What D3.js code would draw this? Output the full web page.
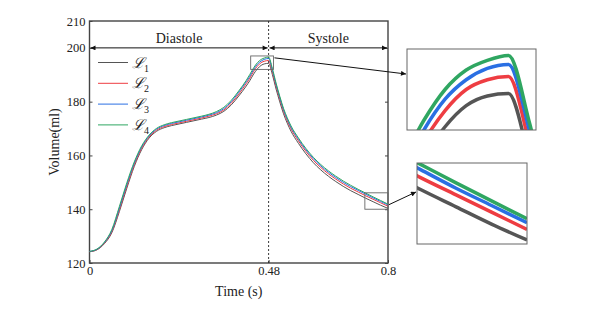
<!DOCTYPE html>
<html>
<head>
<meta charset="utf-8">
<script src="https://cdn.jsdelivr.net/npm/d3@7"></script>
<style>
  body { margin: 0; background: #fff; }
  text { font-family: "Liberation Serif", "DejaVu Serif", serif; fill: #222; }
</style>
</head>
<body>
<div id="chart"></div>
<script>
// time points (s)
let times = [0,0.02,0.04,0.06,0.08,0.10,0.12,0.14,0.16,0.18,0.20,0.22,0.24,0.26,0.28,0.30,0.32,0.34,0.36,0.38,0.40,0.42,0.43,0.44,0.45,0.46,0.47,0.48,0.49,0.50,0.51,0.52,0.53,0.54,0.56,0.58,0.60,0.62,0.64,0.66,0.68,0.70,0.72,0.74,0.76,0.78,0.80]

// volumes (ml) for each case
let volL1 = [124.2,124.9,127.2,131.3,139.1,147.8,155.9,162.2,166.5,169.0,170.3,171.1,171.7,172.3,172.9,173.5,174.1,175.0,176.4,178.8,182.1,185.8,187.9,190.3,192.2,193.5,194.1,194.25,190.1,184.7,179.9,175.5,172.0,169.0,164.5,160.6,157.3,154.6,152.3,150.3,148.5,146.9,145.5,144.1,142.8,141.5,140.3]
let volL2 = [124.2,125.0,127.4,131.7,139.8,148.5,156.5,162.7,166.9,169.4,170.7,171.5,172.1,172.7,173.3,173.9,174.6,175.5,176.9,179.4,182.8,186.7,188.8,191.3,193.2,194.5,195.1,195.3,191.1,185.7,180.9,176.4,172.9,169.9,165.4,161.5,158.2,155.5,153.2,151.2,149.4,147.8,146.4,145.0,143.7,142.4,141.1]
let volL3 = [124.3,125.1,127.6,132.1,140.4,149.2,157.1,163.2,167.3,169.8,171.1,171.9,172.5,173.1,173.7,174.3,175.0,175.9,177.4,180.0,183.5,187.4,189.5,192.0,193.9,195.1,195.8,196.05,191.9,186.4,181.5,177.0,173.5,170.5,166.0,162.1,158.8,156.1,153.8,151.8,150.0,148.4,147.0,145.6,144.2,142.9,141.6]
let volL4 = [124.3,125.2,127.8,132.5,141.0,149.8,157.6,163.6,167.6,170.1,171.4,172.2,172.8,173.4,174.0,174.6,175.3,176.3,177.9,180.5,184.0,187.9,190.2,192.6,194.5,195.7,196.3,196.6,192.4,186.9,182.0,177.5,174.0,171.0,166.5,162.6,159.3,156.6,154.3,152.3,150.5,148.9,147.4,146.0,144.6,143.25,141.9]

let seriesNames = ["1", "2", "3", "4"]
let seriesColors = ["#555555", "#ee3d42", "#2a6fe3", "#2fa661"]
let yTicks = [120, 140, 160, 180, 200, 210]
let xTicks = [0, 0.48, 0.8]
let phaseSplit = 0.48
let phaseNames = ["Diastole", "Systole"]
// zoom windows [t0, t1, v0, v1]
let zoomTop = [0.432, 0.493, 192.0, 197.0]
let zoomEnd = [0.738, 0.8, 140.0, 146.1]

let allVols = [volL1, volL2, volL3, volL4]
let data = allVols.map((v, i) => ({
    name: seriesNames[i],
    color: seriesColors[i],
    values: times.map((t, j) => ({t: t, v: v[j]}))
}))

let svgWidth = 613
let svgHeight = 313
let margin = {top: 21, right: 225, bottom: 50, left: 89.5}
let width = svgWidth - margin.left - margin.right   // ~298.5
let height = svgHeight - margin.top - margin.bottom

let svg = d3.select("#chart").append("svg")
    .attr("width", svgWidth)
    .attr("height", svgHeight)

let defs = svg.append("defs")
defs.append("marker")
    .attr("id", "head")
    .attr("viewBox", "0 0 10 10")
    .attr("refX", 10).attr("refY", 5)
    .attr("markerWidth", 7).attr("markerHeight", 5)
    .attr("markerUnits", "userSpaceOnUse")
    .attr("orient", "auto-start-reverse")
    .append("path").attr("d", "M0,0L10,5L0,10z").attr("fill", "#111")

let x = d3.scaleLinear().domain([0, 0.8]).range([margin.left, margin.left + width])
let y = d3.scaleLinear().domain([120, 210]).range([margin.top + height, margin.top])

let line = d3.line()
    .x(d => x(d.t))
    .y(d => y(d.v))
    .curve(d3.curveMonotoneX)

// axes (ticks inward)
svg.append("g")
    .attr("transform", `translate(${margin.left},0)`)
    .call(d3.axisLeft(y).tickValues(yTicks).tickSize(-3).tickPadding(4))
    .call(g => g.selectAll("text").style("font-size", "12.5px"))
svg.append("g")
    .attr("transform", `translate(${margin.left + width},0)`)
    .call(d3.axisRight(y).tickValues(yTicks.slice(0, 5)).tickSize(-3).tickFormat(""))
svg.append("g")
    .attr("transform", `translate(0,${margin.top + height})`)
    .call(d3.axisBottom(x).tickValues(xTicks).tickSize(-3).tickPadding(3).tickFormat(d3.format("")))
    .call(g => g.selectAll("text").style("font-size", "12.5px"))
svg.selectAll(".domain").attr("stroke", "none")
svg.selectAll(".tick line").attr("stroke", "#444")

// frame
svg.append("rect")
    .attr("x", margin.left).attr("y", margin.top)
    .attr("width", width).attr("height", height)
    .attr("fill", "none").attr("stroke", "#444").attr("stroke-width", 1.4)

// dashed split
svg.append("line")
    .attr("x1", x(phaseSplit)).attr("x2", x(phaseSplit))
    .attr("y1", margin.top).attr("y2", margin.top + height)
    .attr("stroke", "#222").attr("stroke-dasharray", "2,2").attr("stroke-width", 0.9)

// phase arrows
let phases = [[0, phaseSplit], [phaseSplit, 0.8]]
phases.forEach((p, i) => {
    svg.append("line")
        .attr("x1", x(p[0]) + 1).attr("x2", x(p[1]) - 1)
        .attr("y1", y(200)).attr("y2", y(200))
        .attr("stroke", "#111").attr("stroke-width", 1)
        .attr("marker-start", "url(#head)").attr("marker-end", "url(#head)")
    svg.append("text")
        .attr("x", (x(p[0]) + x(p[1])) / 2).attr("y", y(200) - 5)
        .attr("text-anchor", "middle").style("font-size", "14px")
        .text(phaseNames[i])
})

// curves
svg.append("g").selectAll("path")
    .data(data).enter().append("path")
    .attr("d", d => line(d.values))
    .attr("fill", "none")
    .attr("stroke", d => d.color)
    .attr("stroke-width", 1)

// legend
let legend = svg.append("g")
data.forEach((d, i) => {
    let ly = 62.5 + i * 20.8
    legend.append("line")
        .attr("x1", 98).attr("x2", 128).attr("y1", ly).attr("y2", ly)
        .attr("stroke", d.color).attr("stroke-width", 1)
    let t = legend.append("text")
        .attr("x", 132).attr("y", ly + 5)
        .style("font-size", "15px").style("font-style", "italic")
    t.append("tspan").text("\u2112")
    t.append("tspan").attr("dy", 4).style("font-size", "10px").style("font-style", "normal").text(d.name)
})

// axis titles
svg.append("text")
    .attr("x", x(0.4)).attr("y", 296)
    .attr("text-anchor", "middle").style("font-size", "14px")
    .text("Time (s)")
svg.append("text")
    .attr("transform", `translate(59,${margin.top + height / 2}) rotate(-90)`)
    .attr("text-anchor", "middle").style("font-size", "14px")
    .text("Volume(ml)")

// zoom insets
function inset(win, box, id) {
    let sx = d3.scaleLinear().domain([win[0], win[1]]).range([box[0], box[2]])
    let sy = d3.scaleLinear().domain([win[2], win[3]]).range([box[3], box[1]])
    // marker box in main plot
    svg.append("rect")
        .attr("x", x(win[0])).attr("y", y(win[3]))
        .attr("width", x(win[1]) - x(win[0])).attr("height", y(win[2]) - y(win[3]))
        .attr("fill", "none").attr("stroke", "#666").attr("stroke-width", 0.9)
    defs.append("clipPath").attr("id", id)
        .append("rect")
        .attr("x", box[0]).attr("y", box[1])
        .attr("width", box[2] - box[0]).attr("height", box[3] - box[1])
    let zl = d3.line().x(d => sx(d.t)).y(d => sy(d.v)).curve(d3.curveMonotoneX)
    svg.append("g").attr("clip-path", `url(#${id})`)
        .selectAll("path").data(data).enter().append("path")
        .attr("d", d => zl(d.values))
        .attr("fill", "none").attr("stroke", d => d.color).attr("stroke-width", 3.5)
    svg.append("rect")
        .attr("x", box[0]).attr("y", box[1])
        .attr("width", box[2] - box[0]).attr("height", box[3] - box[1])
        .attr("fill", "none").attr("stroke", "#666").attr("stroke-width", 1)
}
inset(zoomTop, [407, 49, 536, 130], "clipTop")
inset(zoomEnd, [417, 163, 527, 244], "clipEnd")

// pointer arrows
svg.append("line")
    .attr("x1", x(zoomTop[1]) + 1).attr("y1", y(196.3))
    .attr("x2", 406).attr("y2", 74)
    .attr("stroke", "#111").attr("stroke-width", 1)
    .attr("marker-end", "url(#head)")
svg.append("line")
    .attr("x1", x(zoomEnd[1]) + 1).attr("y1", y(141.7))
    .attr("x2", 416).attr("y2", 192)
    .attr("stroke", "#111").attr("stroke-width", 1)
    .attr("marker-end", "url(#head)")
</script>
</body>
</html>
